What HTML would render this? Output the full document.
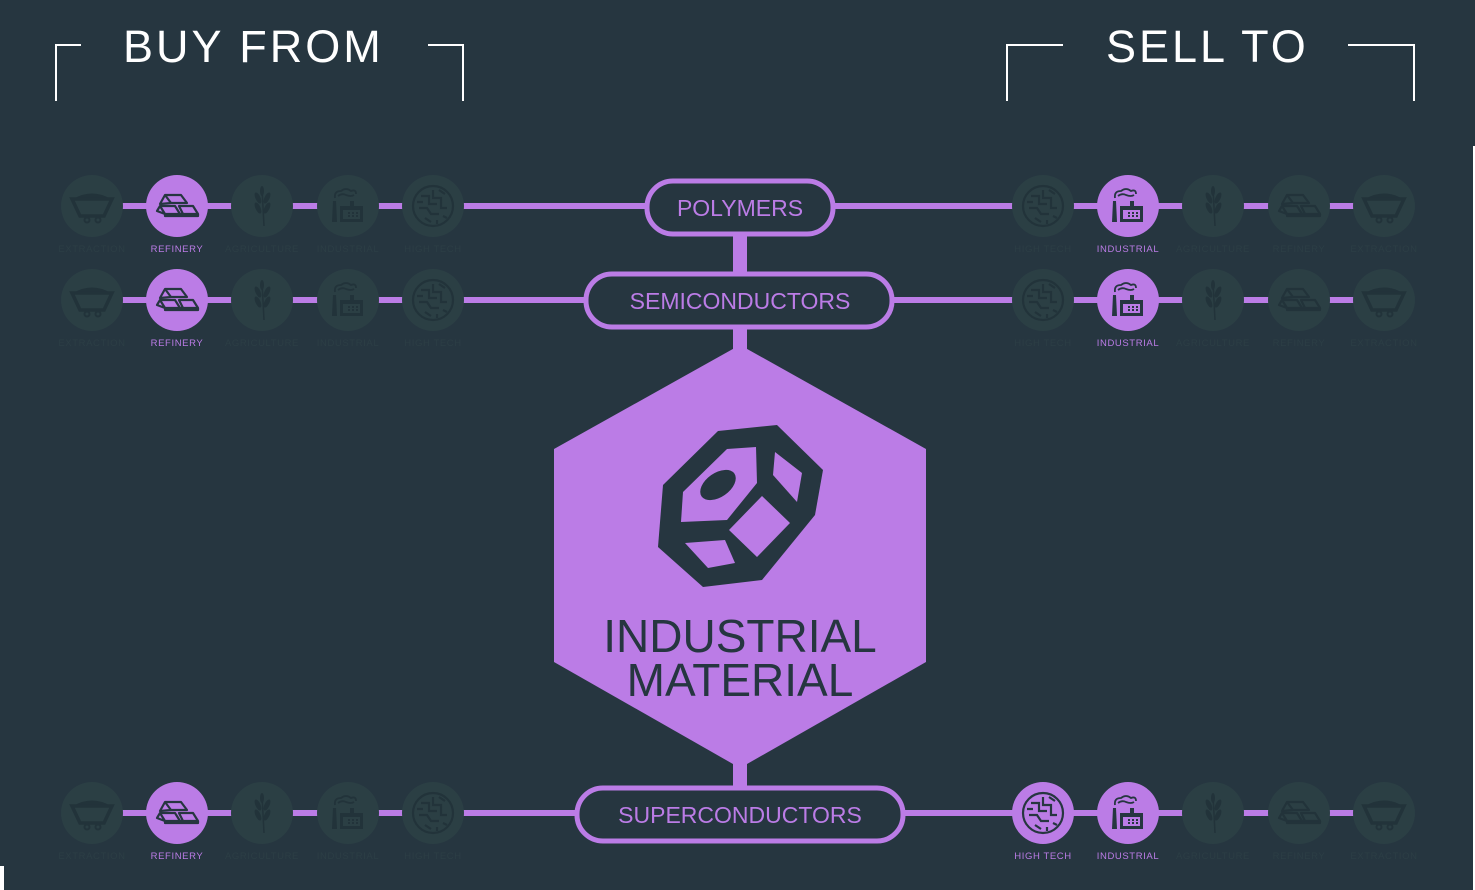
<!DOCTYPE html>
<html><head><meta charset="utf-8"><style>
html,body{margin:0;padding:0;background:#263640;}
svg{display:block;font-family:"Liberation Sans",sans-serif;}
</style></head><body>
<svg width="1475" height="890" viewBox="0 0 1475 890" xmlns="http://www.w3.org/2000/svg">
<defs>
<symbol id="cart" viewBox="-31 -31 62 62" overflow="visible">
 <path d="M-19,-7 Q0,-18 19,-7 Z" fill="currentColor"/>
 <path d="M-20,-7 L20,-7 L12,10 L-12,10 Z" fill="none" stroke="currentColor" stroke-width="3.5"/>
 <circle cx="-5" cy="14" r="2.5" fill="none" stroke="currentColor" stroke-width="2"/>
 <circle cx="6" cy="14" r="2.5" fill="none" stroke="currentColor" stroke-width="2"/>
</symbol>
<symbol id="bars" viewBox="-31 -31 62 62" overflow="visible">
 <g fill="none" stroke="currentColor" stroke-width="2.2" stroke-linejoin="round">
  <path d="M-12,-11 L4,-11 L10,-3 L-6,-3 Z M-12,-11 L-17,-2 L-6,-3"/>
  <path d="M-17,0 L-2,0 L3,8 L-12,8 Z M-17,0 L-20,5 L-12,8"/>
  <path d="M2,0 L16,0 L21,8 L6,8 Z M3,8 L6,8"/>
  <path d="M-12,8 L-12,10 L21,10 L21,8"/>
 </g>
</symbol>
<symbol id="wheat" viewBox="-31 -31 62 62" overflow="visible">
 <g fill="currentColor">
  <path d="M0,-18 L2,20" stroke="currentColor" stroke-width="1.5"/>
  <ellipse cx="-4" cy="-8" rx="2.5" ry="6" transform="rotate(-25 -4 -8)"/>
  <ellipse cx="5" cy="-8" rx="2.5" ry="6" transform="rotate(25 5 -8)"/>
  <ellipse cx="-4" cy="2" rx="2.5" ry="6" transform="rotate(-25 -4 2)"/>
  <ellipse cx="5" cy="2" rx="2.5" ry="6" transform="rotate(25 5 2)"/>
  <ellipse cx="0" cy="-15" rx="2" ry="5"/>
 </g>
</symbol>
<symbol id="factory" viewBox="-31 -31 62 62" overflow="visible">
 <g fill="currentColor">
  <path d="M-15,-5 L-12,-5 L-11,16 L-16,16 Z"/>
  <path d="M-8,0 L2,0 L2,-5 L6,-5 L6,0 L15,0 L15,16 L-8,16 Z M-5,4 L12,4 L12,13 L-5,13 Z" fill-rule="evenodd"/>
  <rect x="0" y="6" width="2" height="2"/><rect x="4" y="6" width="2" height="2"/><rect x="8" y="6" width="2" height="2"/>
  <rect x="0" y="9" width="2" height="2"/><rect x="4" y="9" width="2" height="2"/><rect x="8" y="9" width="2" height="2"/>
 </g>
 <path d="M-13,-8 Q-14,-15 -7,-15 Q-2,-19 3,-15 Q8,-17 8,-12 M-10,-10 Q-6,-13 -2,-11 Q3,-9 6,-11" fill="none" stroke="currentColor" stroke-width="1.8"/>
</symbol>
<symbol id="chip" viewBox="-31 -31 62 62" overflow="visible">
 <g fill="none" stroke="currentColor" stroke-width="2.2">
  <circle r="20"/>
  <path d="M-12,-10 L-4,-10 L-4,-2 L4,-2 M-14,2 L-6,2 L-2,8 L6,8 M0,-16 L0,-8 L8,-8 L8,2 L14,2 M-8,12 L-2,16 M10,10 L14,12 M4,14 L4,18 M-16,-4 L-10,-4 M6,-16 L12,-12"/>
 </g>
</symbol>
</defs>

<!-- white edges -->
<rect x="1473" y="146" width="2" height="744" fill="#ffffff"/>
<rect x="0" y="866" width="4" height="24" fill="#ffffff"/>

<!-- Header -->
<g fill="none" stroke="#ffffff" stroke-width="2">
 <path d="M56,101 L56,45 L81,45"/>
 <path d="M428,45 L463,45 L463,101"/>
 <path d="M1007,101 L1007,45 L1063,45"/>
 <path d="M1348,45 L1414,45 L1414,101"/>
</g>
<text x="123" y="62" fill="#ffffff" font-size="45" letter-spacing="3">BUY FROM</text>
<text x="1106" y="62" fill="#ffffff" font-size="45" letter-spacing="3">SELL TO</text>

<!-- vertical connectors -->
<rect x="733" y="234" width="14" height="40" fill="#bb7ce6"/>
<rect x="733" y="327" width="14" height="24" fill="#bb7ce6"/>
<rect x="733" y="760" width="14" height="28" fill="#bb7ce6"/>

<!-- hexagon -->
<polygon points="740,345 926,449 926,662 740,768 554,662 554,449" fill="#bb7ce6"/>
<polygon points="718,431 777,425 823,470 815,515 762,580 703,587 658,547 663,485" fill="#263640"/>
<g fill="#bb7ce6">
 <polygon points="727,449 756,447 757,483 727,520 681,522 683,492"/>
 <polygon points="775,452 802,473 797,502 773,475"/>
 <polygon points="762,496 790,523 757,557 729,530"/>
 <polygon points="685,543 725,540 735,563 708,568"/>
</g>
<ellipse cx="718" cy="485" rx="20" ry="12" transform="rotate(-35 718 485)" fill="#263640"/>
<text x="740" y="652" text-anchor="middle" fill="#263640" font-size="46">INDUSTRIAL</text>
<text x="740" y="696" text-anchor="middle" fill="#263640" font-size="46">MATERIAL</text>

<!-- rows: horizontal lines -->
<g fill="#bb7ce6">
 <rect x="92" y="203" width="556" height="6"/>
 <rect x="832" y="203" width="552" height="6"/>
 <rect x="92" y="297" width="495" height="6"/>
 <rect x="891" y="297" width="493" height="6"/>
 <rect x="92" y="810" width="486" height="6"/>
 <rect x="902" y="810" width="482" height="6"/>
</g>

<!-- pills -->
<g fill="#263640" stroke="#bb7ce6" stroke-width="5">
 <rect x="647" y="181" width="186" height="53" rx="26"/>
 <rect x="586" y="274" width="306" height="53" rx="26"/>
 <rect x="577" y="788" width="326" height="53" rx="26"/>
</g>
<g fill="#bb7ce6" font-size="23" text-anchor="middle">
 <text x="740" y="216">POLYMERS</text>
 <text x="740" y="309">SEMICONDUCTORS</text>
 <text x="740" y="823">SUPERCONDUCTORS</text>
</g>

<!-- circles -->
<g id="circles">
 <!-- row 1 left -->
 <g fill="#2b3f44">
  <circle cx="92" cy="206" r="31"/><circle cx="262" cy="206" r="31"/><circle cx="348" cy="206" r="31"/><circle cx="433" cy="206" r="31"/>
  <circle cx="1043" cy="206" r="31"/><circle cx="1213" cy="206" r="31"/><circle cx="1299" cy="206" r="31"/><circle cx="1384" cy="206" r="31"/>
  <circle cx="92" cy="300" r="31"/><circle cx="262" cy="300" r="31"/><circle cx="348" cy="300" r="31"/><circle cx="433" cy="300" r="31"/>
  <circle cx="1043" cy="300" r="31"/><circle cx="1213" cy="300" r="31"/><circle cx="1299" cy="300" r="31"/><circle cx="1384" cy="300" r="31"/>
  <circle cx="92" cy="813" r="31"/><circle cx="262" cy="813" r="31"/><circle cx="348" cy="813" r="31"/><circle cx="433" cy="813" r="31"/>
  <circle cx="1213" cy="813" r="31"/><circle cx="1299" cy="813" r="31"/><circle cx="1384" cy="813" r="31"/>
 </g>
 <g fill="#bb7ce6">
  <circle cx="177" cy="206" r="31"/><circle cx="1128" cy="206" r="31"/>
  <circle cx="177" cy="300" r="31"/><circle cx="1128" cy="300" r="31"/>
  <circle cx="177" cy="813" r="31"/><circle cx="1043" cy="813" r="31"/><circle cx="1128" cy="813" r="31"/>
 </g>
</g>

<!-- icons inactive -->
<g color="#22333a">
 <use href="#cart" x="61" y="175" width="62" height="62"/>
 <use href="#wheat" x="231" y="175" width="62" height="62"/>
 <use href="#factory" x="317" y="175" width="62" height="62"/>
 <use href="#chip" x="402" y="175" width="62" height="62"/>
 <use href="#chip" x="1012" y="175" width="62" height="62"/>
 <use href="#wheat" x="1182" y="175" width="62" height="62"/>
 <use href="#bars" x="1268" y="175" width="62" height="62"/>
 <use href="#cart" x="1353" y="175" width="62" height="62"/>

 <use href="#cart" x="61" y="269" width="62" height="62"/>
 <use href="#wheat" x="231" y="269" width="62" height="62"/>
 <use href="#factory" x="317" y="269" width="62" height="62"/>
 <use href="#chip" x="402" y="269" width="62" height="62"/>
 <use href="#chip" x="1012" y="269" width="62" height="62"/>
 <use href="#wheat" x="1182" y="269" width="62" height="62"/>
 <use href="#bars" x="1268" y="269" width="62" height="62"/>
 <use href="#cart" x="1353" y="269" width="62" height="62"/>

 <use href="#cart" x="61" y="782" width="62" height="62"/>
 <use href="#wheat" x="231" y="782" width="62" height="62"/>
 <use href="#factory" x="317" y="782" width="62" height="62"/>
 <use href="#chip" x="402" y="782" width="62" height="62"/>
 <use href="#wheat" x="1182" y="782" width="62" height="62"/>
 <use href="#bars" x="1268" y="782" width="62" height="62"/>
 <use href="#cart" x="1353" y="782" width="62" height="62"/>
</g>
<!-- icons active -->
<g color="#263640">
 <use href="#bars" x="146" y="175" width="62" height="62"/>
 <use href="#factory" x="1097" y="175" width="62" height="62"/>
 <use href="#bars" x="146" y="269" width="62" height="62"/>
 <use href="#factory" x="1097" y="269" width="62" height="62"/>
 <use href="#bars" x="146" y="782" width="62" height="62"/>
 <use href="#chip" x="1012" y="782" width="62" height="62"/>
 <use href="#factory" x="1097" y="782" width="62" height="62"/>
</g>

<!-- labels -->
<g font-size="9.5" text-anchor="middle" letter-spacing="0.6">
 <g fill="#2c3e45">
  <text x="92" y="252">EXTRACTION</text><text x="262" y="252">AGRICULTURE</text><text x="348" y="252">INDUSTRIAL</text><text x="433" y="252">HIGH TECH</text>
  <text x="1043" y="252">HIGH TECH</text><text x="1213" y="252">AGRICULTURE</text><text x="1299" y="252">REFINERY</text><text x="1384" y="252">EXTRACTION</text>
  <text x="92" y="346">EXTRACTION</text><text x="262" y="346">AGRICULTURE</text><text x="348" y="346">INDUSTRIAL</text><text x="433" y="346">HIGH TECH</text>
  <text x="1043" y="346">HIGH TECH</text><text x="1213" y="346">AGRICULTURE</text><text x="1299" y="346">REFINERY</text><text x="1384" y="346">EXTRACTION</text>
  <text x="92" y="859">EXTRACTION</text><text x="262" y="859">AGRICULTURE</text><text x="348" y="859">INDUSTRIAL</text><text x="433" y="859">HIGH TECH</text>
  <text x="1213" y="859">AGRICULTURE</text><text x="1299" y="859">REFINERY</text><text x="1384" y="859">EXTRACTION</text>
 </g>
 <g fill="#bb7ce6">
  <text x="177" y="252">REFINERY</text><text x="1128" y="252">INDUSTRIAL</text>
  <text x="177" y="346">REFINERY</text><text x="1128" y="346">INDUSTRIAL</text>
  <text x="177" y="859">REFINERY</text><text x="1043" y="859">HIGH TECH</text><text x="1128" y="859">INDUSTRIAL</text>
 </g>
</g>
</svg>
</body></html>
